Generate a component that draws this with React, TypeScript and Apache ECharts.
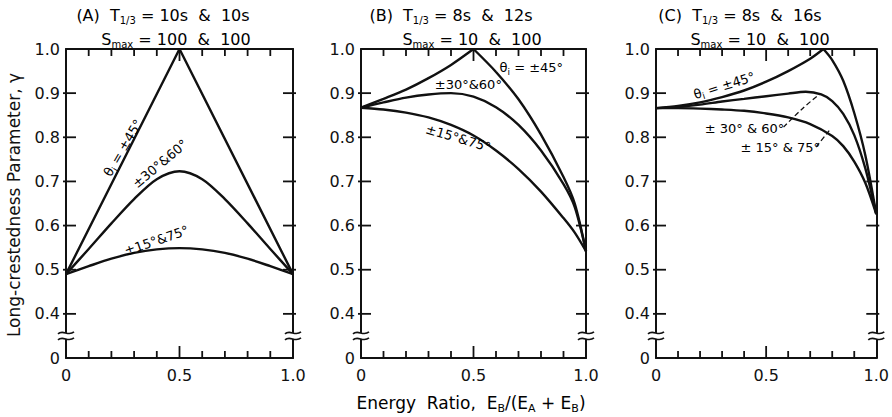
import React, { useEffect, useRef } from "react";
import * as echarts from "echarts";

const FONT = "DejaVu Sans";
const INK = "#111";

// ---------- data ----------
// Panel A
const a45X = [0, 0.5, 1.0];
const a45 = [0.49, 1.0, 0.49];
const aX = [0, 0.1, 0.2, 0.3, 0.4, 0.5, 0.6, 0.7, 0.8, 0.9, 1.0];
const a30 = [0.49, 0.547, 0.605, 0.66, 0.705, 0.723, 0.705, 0.66, 0.605, 0.547, 0.49];
const a15 = [0.49, 0.508, 0.525, 0.538, 0.546, 0.549, 0.546, 0.538, 0.525, 0.508, 0.49];

// Panel B
const bX = [0, 0.1, 0.2, 0.3, 0.4, 0.5, 0.6, 0.7, 0.8, 0.9, 0.95, 1.0];
const b45UpX = [0, 0.1, 0.2, 0.3, 0.4, 0.5];
const b45Up = [0.867, 0.887, 0.908, 0.934, 0.964, 1.0];
const b45DownX = [0.5, 0.6, 0.7, 0.8, 0.9, 0.95, 1.0];
const b45Down = [1.0, 0.948, 0.886, 0.806, 0.71, 0.65, 0.542];
const b30 = [0.867, 0.879, 0.89, 0.897, 0.9, 0.892, 0.868, 0.828, 0.77, 0.694, 0.642, 0.542];
const b15 = [0.867, 0.863, 0.856, 0.845, 0.828, 0.804, 0.77, 0.728, 0.677, 0.617, 0.584, 0.542];

// Panel C
const c45UpX = [0, 0.1, 0.2, 0.3, 0.4, 0.5, 0.6, 0.7, 0.76];
const c45Up = [0.866, 0.871, 0.879, 0.891, 0.906, 0.926, 0.95, 0.978, 1.0];
const c45DownX = [0.76, 0.8, 0.85, 0.9, 0.95, 1.0];
const c45Down = [1.0, 0.975, 0.928, 0.855, 0.76, 0.626];
const c30X = [0, 0.1, 0.2, 0.3, 0.4, 0.5, 0.6, 0.68, 0.75, 0.8, 0.85, 0.9, 0.95, 1.0];
const c30 = [0.866, 0.869, 0.874, 0.881, 0.887, 0.893, 0.899, 0.903, 0.897, 0.882, 0.853, 0.805, 0.73, 0.626];
const c15X = [0, 0.1, 0.2, 0.3, 0.4, 0.5, 0.6, 0.7, 0.8, 0.85, 0.9, 0.95, 1.0];
const c15 = [0.866, 0.866, 0.865, 0.863, 0.86, 0.854, 0.845, 0.83, 0.803, 0.78, 0.745, 0.697, 0.626];

// ticks and tick labels
const xMinorTicks = [0.1, 0.2, 0.3, 0.4, 0.6, 0.7, 0.8, 0.9];
const xMajorTicks = [0.5];
const yTicks = [0.4, 0.5, 0.6, 0.7, 0.8, 0.9];
const xTickLabels: Record<string, string> = { "0": "0", "0.5": "0.5", "1": "1.0" };
const yBottomLabel = "0";
const yMin = 0.3;
const yMax = 1.0;
const yBreak = 0.35;

// titles
const titleLine1 = [
  "{n|(A)  T}{s|1/3}{n| = 10s  &  10s}",
  "{n|(B)  T}{s|1/3}{n| = 8s  &  12s}",
  "{n|(C)  T}{s|1/3}{n| = 8s  &  16s}",
];
const titleLine2 = [
  "{n|S}{s|max}{n| = 100  &  100}",
  "{n|S}{s|max}{n| = 10  &  100}",
  "{n|S}{s|max}{n| = 10  &  100}",
];

// curve labels: [panel, x, y, rotation, text]
const curveLabels: [number, number, number, number, string][] = [
  [0, 0.251, 0.776, 1.04, "{n|θ}{s|i}{n| = ±45°}"],
  [0, 0.414, 0.74, 0.7, "{n|±30°&60°}"],
  [0, 0.399, 0.566, 0.33, "{n|±15°&75°}"],
  [1, 0.757, 0.958, 0, "{n|θ}{s|i}{n| = ±45°}"],
  [1, 0.477, 0.919, 0, "{n|±30°&60°}"],
  [1, 0.432, 0.798, -0.29, "{n|±15°&75°}"],
  [2, 0.31, 0.917, 0.3, "{n|θ}{s|i}{n| = ±45°}"],
  [2, 0.402, 0.821, 0, "{n|± 30° & 60°}"],
  [2, 0.564, 0.777, 0, "{n|± 15° & 75°}"],
];

// leader lines (panel C), in data coords
const leader30 = [[0.579, 0.823], [0.667, 0.866], [0.741, 0.897]];
const leader15 = [[0.727, 0.778], [0.789, 0.817]];

const gridLeft = [66, 361, 656];
const gridWidth = [227, 225, 227];
const gridTop = 49;
const gridHeight = 309;
const titleX1 = [163, 451, 740];
const titleX2 = [176, 472, 760];

const App: React.FC = () => {
  const ref = useRef<HTMLDivElement>(null);

  useEffect(() => {
    document.body.style.margin = "0";
    if (!ref.current) return;
    const chart = echarts.init(ref.current, null, { renderer: "svg" });

    const axisLine = { show: true, onZero: false, lineStyle: { color: INK, width: 2 } };

    const grids = [0, 1, 2].map((i) => ({
      left: gridLeft[i],
      top: gridTop,
      width: gridWidth[i],
      height: gridHeight,
      containLabel: false,
    }));

    const xAxes: any[] = [];
    const yAxes: any[] = [];
    [0, 1, 2].forEach((i) => {
      ["bottom", "top"].forEach((pos) => {
        xAxes.push({
          type: "value",
          gridIndex: i,
          position: pos,
          min: 0,
          max: 1,
          interval: 0.5,
          axisLine,
          axisTick: { show: false },
          axisLabel: {
            show: pos === "bottom",
            margin: 9,
            fontSize: 16,
            fontFamily: FONT,
            color: INK,
            formatter: (v: number) => xTickLabels[String(v)] ?? String(v),
          },
          splitLine: { show: false },
        });
      });
      ["left", "right"].forEach((pos) => {
        yAxes.push({
          type: "value",
          gridIndex: i,
          position: pos,
          min: yMin,
          max: yMax,
          interval: 0.1,
          axisLine,
          axisTick: { show: false },
          axisLabel: {
            show: pos === "left",
            margin: 6,
            fontSize: 16,
            fontFamily: FONT,
            color: INK,
            formatter: (v: number) => (Math.abs(v - yMin) < 1e-6 ? yBottomLabel : v.toFixed(1)),
          },
          splitLine: { show: false },
        });
      });
    });

    const line = (xs: number[], ys: number[], gi: number, smooth: number | boolean) => ({
      type: "line",
      xAxisIndex: gi * 2,
      yAxisIndex: gi * 2,
      data: xs.map((x, k) => [x, ys[k]]),
      smooth,
      symbol: "none",
      silent: true,
      lineStyle: { color: INK, width: 2.4 },
      z: 3,
    });

    // tick marks drawn as scatter symbols placed by the axes' own scales
    const TW = 1.8;
    const tickSeries = (gi: number, pts: number[][], size: number[], offset: number[]) => ({
      type: "scatter",
      xAxisIndex: gi * 2,
      yAxisIndex: gi * 2,
      data: pts,
      symbol: "rect",
      symbolSize: size,
      symbolOffset: offset,
      itemStyle: { color: INK, opacity: 1 },
      silent: true,
      clip: false,
      z: 5,
    });

    const series: any[] = [
      line(a45X, a45, 0, false),
      line(aX, a30, 0, 0.3),
      line(aX, a15, 0, 0.3),
      line(b45UpX, b45Up, 1, 0.3),
      line(b45DownX, b45Down, 1, 0.3),
      line(bX, b30, 1, 0.3),
      line(bX, b15, 1, 0.3),
      line(c45UpX, c45Up, 2, 0.3),
      line(c45DownX, c45Down, 2, 0.3),
      line(c30X, c30, 2, 0.3),
      line(c15X, c15, 2, 0.3),
    ];
    [0, 1, 2].forEach((gi) => {
      series.push(tickSeries(gi, xMinorTicks.map((x) => [x, yMin]), [TW, 7], [0, -3.5]));
      series.push(tickSeries(gi, xMinorTicks.map((x) => [x, yMax]), [TW, 7], [0, 3.5]));
      series.push(tickSeries(gi, xMajorTicks.map((x) => [x, yMin]), [TW, 12], [0, -6]));
      series.push(tickSeries(gi, xMajorTicks.map((x) => [x, yMax]), [TW, 12], [0, 6]));
      series.push(tickSeries(gi, yTicks.map((y) => [0, y]), [13, TW], [3.5, 0]));
      series.push(tickSeries(gi, yTicks.map((y) => [1, y]), [13, TW], [-3.5, 0]));
    });

    chart.setOption({
      animation: false,
      backgroundColor: "#fff",
      grid: grids,
      xAxis: xAxes,
      yAxis: yAxes,
      series,
    });

    const P = (gi: number, x: number, y: number) =>
      chart.convertToPixel({ gridIndex: gi } as any, [x, y]) as number[];

    const richMain = (fs: number, sub: number) => ({
      n: { fontSize: fs, fontFamily: FONT, color: INK, lineHeight: fs + 4, verticalAlign: "middle" },
      s: { fontSize: sub, fontFamily: FONT, color: INK, lineHeight: fs + 4, verticalAlign: "bottom" },
    });

    const graphics: any[] = [];

    [0, 1, 2].forEach((i) => {
      graphics.push({
        type: "text",
        x: titleX1[i],
        y: 15,
        z: 100,
        style: { text: titleLine1[i], rich: richMain(16, 10), align: "center", verticalAlign: "middle" },
      });
      graphics.push({
        type: "text",
        x: titleX2[i],
        y: 39,
        z: 100,
        style: { text: titleLine2[i], rich: richMain(16, 10), align: "center", verticalAlign: "middle" },
      });
      // axis break marks
      [0, 1].forEach((xv) => {
        const [bx, by] = P(i, xv, yBreak);
        graphics.push({
          type: "rect",
          z: 100,
          shape: { x: bx - 3, y: by - 3, width: 6, height: 6 },
          style: { fill: "#fff" },
        });
        [-3, 3].forEach((dy) => {
          graphics.push({
            type: "bezierCurve",
            z: 101,
            shape: {
              x1: bx - 8,
              y1: by + dy + 1,
              cpx1: bx - 3,
              cpy1: by + dy - 4,
              cpx2: bx + 2,
              cpy2: by + dy + 4,
              x2: bx + 8,
              y2: by + dy - 1,
            },
            style: { stroke: INK, lineWidth: 1.6, fill: null },
          });
        });
      });
    });

    curveLabels.forEach(([gi, x, y, rot, text]) => {
      const [lx, ly] = P(gi, x, y);
      graphics.push({
        type: "text",
        x: lx,
        y: ly,
        rotation: rot,
        z: 100,
        style: { text, rich: richMain(13, 9), align: "center", verticalAlign: "middle" },
      });
    });

    [leader30, leader15].forEach((pts) => {
      graphics.push({
        type: "polyline",
        z: 100,
        shape: { points: pts.map(([x, y]) => P(2, x, y)), smooth: 0.4 },
        style: { stroke: INK, lineWidth: 1.3, lineDash: [5, 3], fill: null },
      });
    });

    // axis titles
    graphics.push({
      type: "text",
      x: 14,
      y: 205,
      rotation: Math.PI / 2,
      z: 100,
      style: {
        text: "Long-crestedness Parameter, γ",
        fontSize: 17,
        fontFamily: FONT,
        fill: INK,
        align: "center",
        verticalAlign: "middle",
      },
    });
    graphics.push({
      type: "text",
      x: 471,
      y: 403,
      z: 100,
      style: {
        text: "{n|Energy  Ratio,  E}{s|B}{n|/(E}{s|A}{n| + E}{s|B}{n|)}",
        rich: richMain(17, 11),
        align: "center",
        verticalAlign: "middle",
      },
    });

    chart.setOption({ graphic: graphics });

    return () => chart.dispose();
  }, []);

  return <div ref={ref} style={{ width: 892, height: 417 }} />;
};

export default App;
